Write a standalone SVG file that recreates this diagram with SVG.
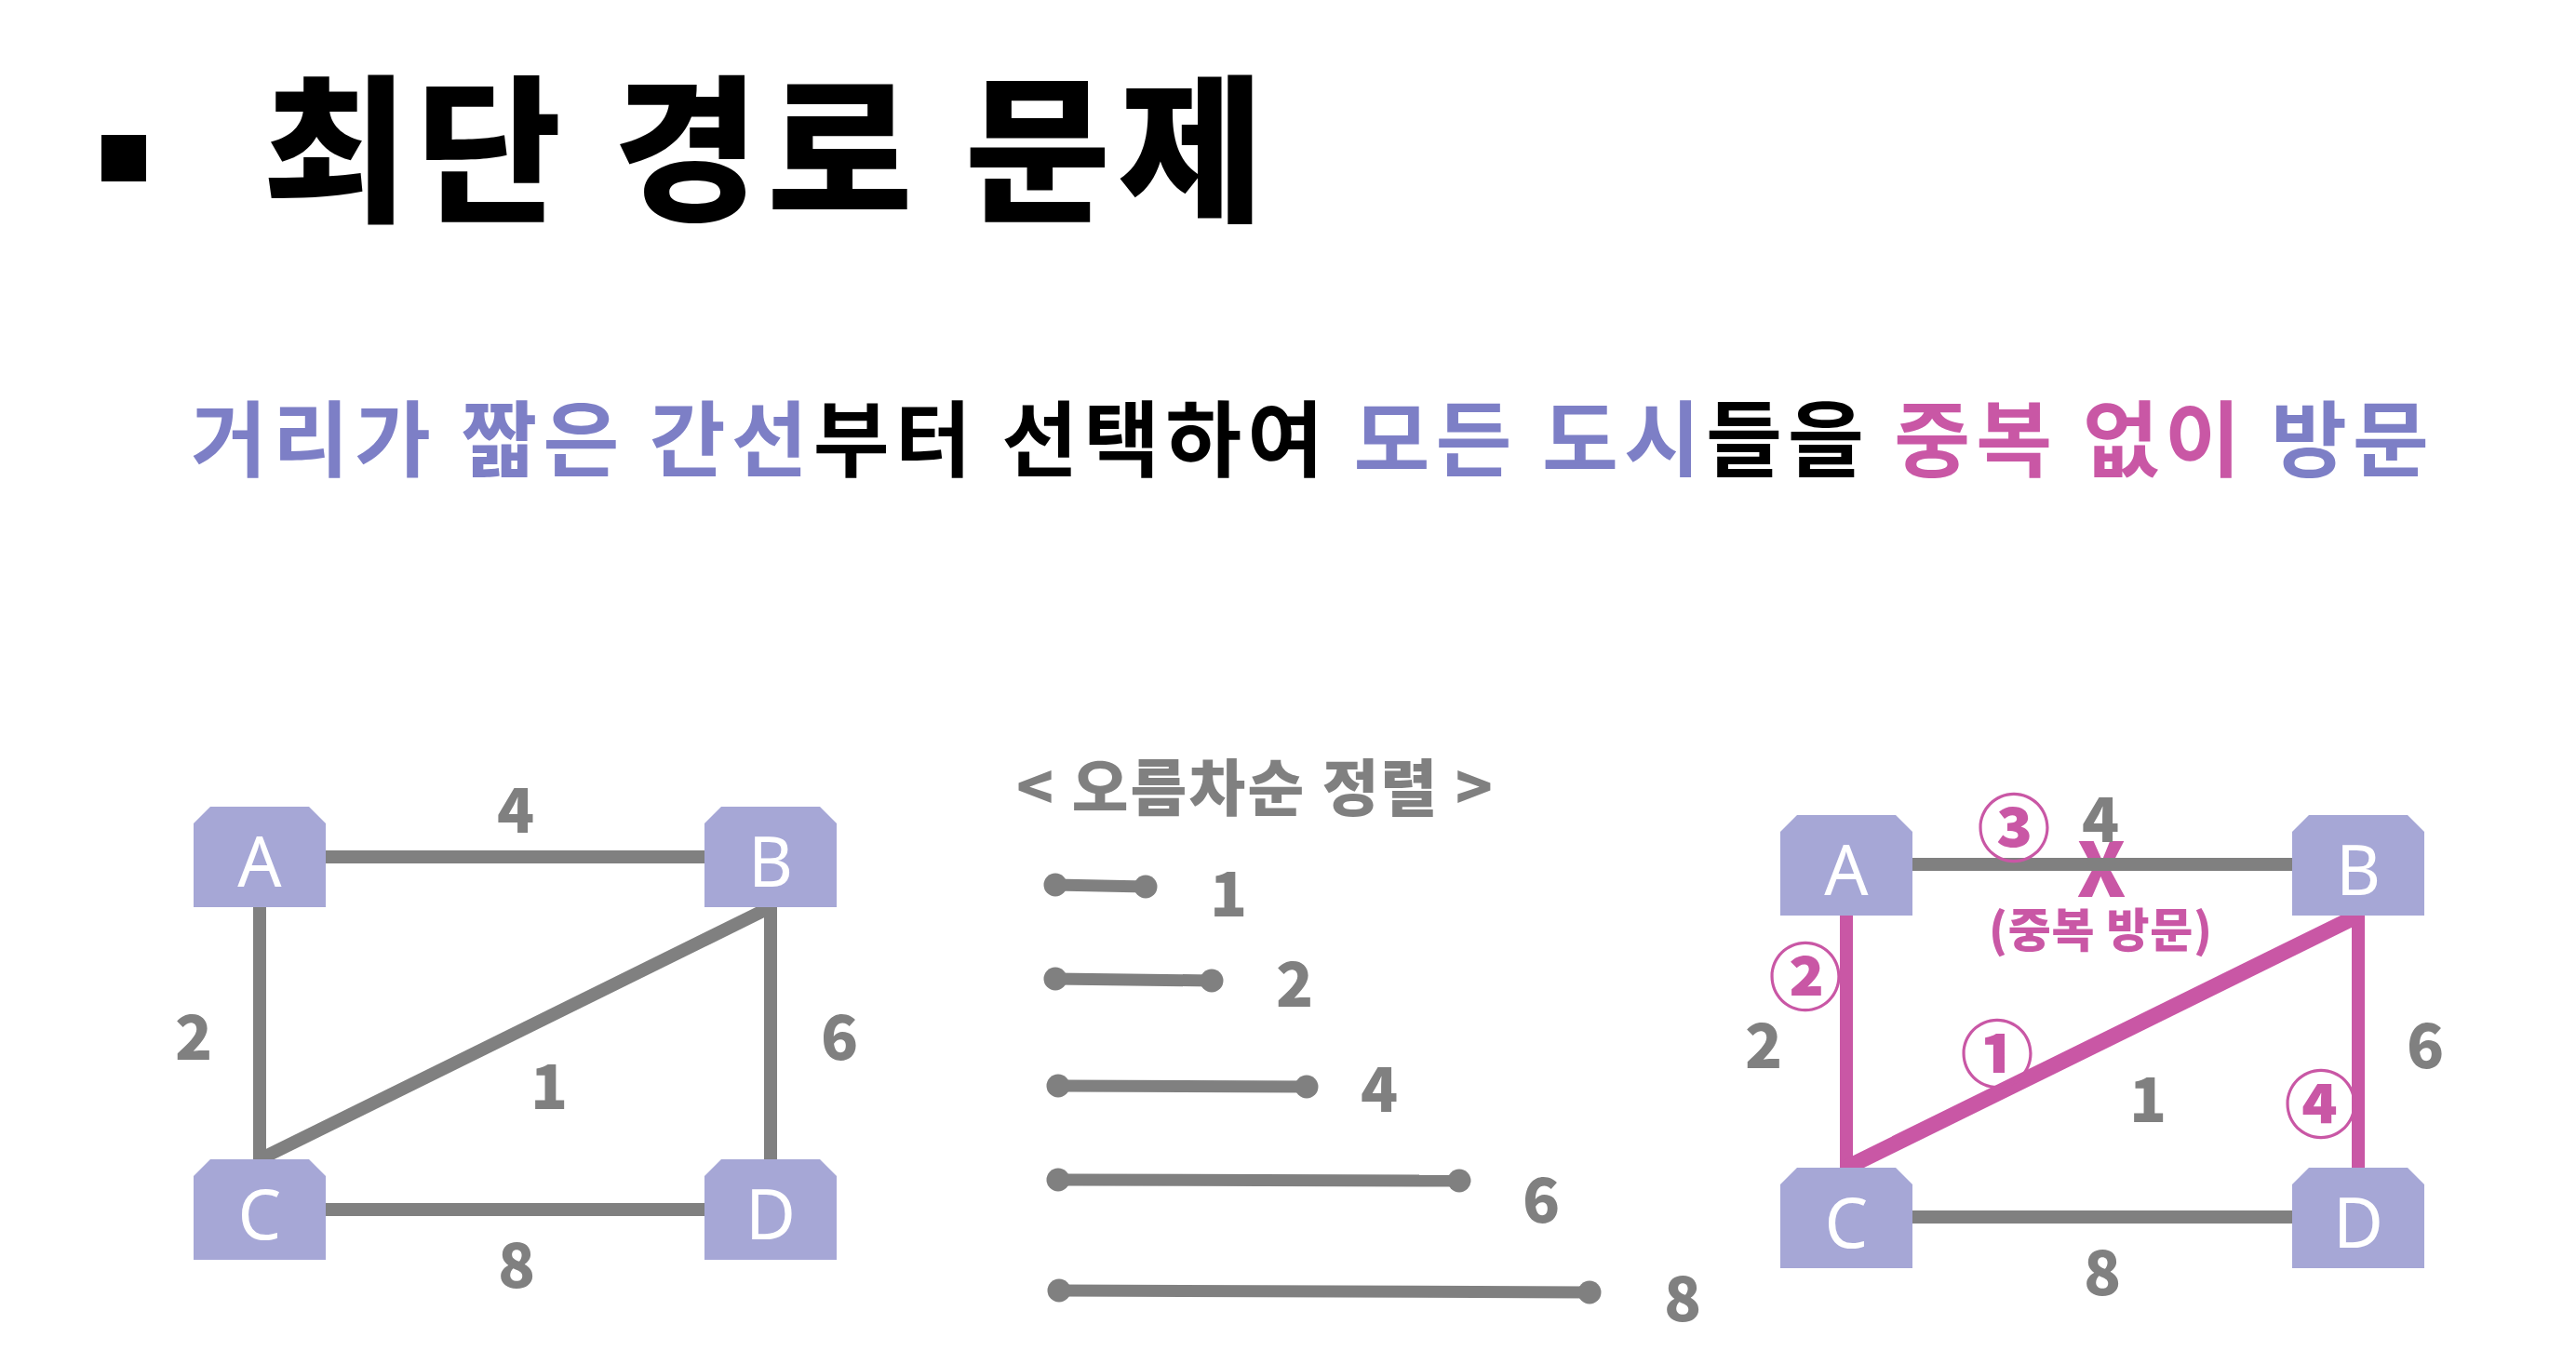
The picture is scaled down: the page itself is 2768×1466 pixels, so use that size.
<svg xmlns="http://www.w3.org/2000/svg" width="2768" height="1466" viewBox="0 0 2768 1466">
<style>
.kr{font-family:"Noto Sans CJK KR","Noto Sans",sans-serif}
.title{font-size:170px;font-weight:900;fill:#000}
.sub{font-size:89px;font-weight:700}
.pu{fill:#7D7FC6}
.bk{fill:#000}
.pk{fill:#C957A5}
.num{font-family:"Noto Sans CJK KR",sans-serif;font-size:66px;font-weight:900;fill:#808080;text-anchor:middle}
.node{fill:#A6A7D6}
.nl{font-family:"Noto Sans",sans-serif;font-size:74px;fill:#fff;text-anchor:middle}
.e{stroke:#808080;stroke-width:14;fill:none}
.ep{stroke:#C957A5;stroke-width:14;fill:none}
.epd{stroke:#C957A5;stroke-width:17;fill:none}
.s{stroke:#808080;stroke-width:13;fill:none;marker-start:url(#dot);marker-end:url(#dot)}
.circ{font-family:"Noto Sans CJK KR",sans-serif;font-size:79px;font-weight:900;fill:#C957A5;text-anchor:middle}
</style>
<defs>
<path id="shape" d="M18,0H124L142,18V108H0V18Z"/>
<marker id="dot" markerUnits="userSpaceOnUse" markerWidth="26" markerHeight="26" refX="13" refY="13" viewBox="0 0 26 26"><circle cx="13" cy="13" r="12.5" fill="#808080"/></marker>
</defs>
<rect width="2768" height="1466" fill="#fff"/>
<g id="title">
<rect x="109" y="145" width="48" height="50" fill="#000"/>
<text class="kr title" x="282" y="225" textLength="1076">최단 경로 문제</text>
</g>
<g id="subtitle">
<text class="kr sub" x="205" y="505" textLength="2405"><tspan class="pu">거리가 짧은 간선</tspan><tspan class="bk">부터 선택하여 </tspan><tspan class="pu">모든 도시</tspan><tspan class="bk">들을 </tspan><tspan class="pk">중복 없이</tspan><tspan class="pu"> 방문</tspan></text>
</g>
<g id="marks">
<text class="kr pk" x="2258" y="964" font-size="80" font-weight="900" text-anchor="middle">X</text>
</g>
<g id="connectors">
<line class="e" x1="350" y1="921" x2="757" y2="921"/>
<line class="e" x1="350" y1="1300" x2="757" y2="1300"/>
<line class="e" x1="279" y1="975" x2="279" y2="1246"/>
<line class="e" x1="828" y1="975" x2="828" y2="1246"/>
<line class="e" x1="279" y1="1246" x2="828" y2="975"/>
<line class="e" x1="2055" y1="929" x2="2463" y2="929"/>
<line class="e" x1="2055" y1="1308" x2="2463" y2="1308"/>
<line class="ep" x1="1984" y1="984" x2="1984" y2="1255"/>
<line class="ep" x1="2534" y1="984" x2="2534" y2="1255"/>
<line class="epd" x1="1984" y1="1255" x2="2534" y2="984"/>
</g>
<g id="left-graph">
<g id="L-A"><use href="#shape" x="208" y="867" class="node"/><text class="nl" x="279" y="953">A</text></g>
<g id="L-B"><use href="#shape" x="757" y="867" class="node"/><text class="nl" x="828" y="953">B</text></g>
<g id="L-C"><use href="#shape" x="208" y="1246" class="node"/><text class="nl" x="279" y="1332">C</text></g>
<g id="L-D"><use href="#shape" x="757" y="1246" class="node"/><text class="nl" x="828" y="1332">D</text></g>
<text class="num" x="554" y="895">4</text>
<text class="num" x="208" y="1139">2</text>
<text class="num" x="902" y="1139">6</text>
<text class="num" x="590" y="1192">1</text>
<text class="num" x="555" y="1384">8</text>
</g>
<g id="sorted">
<text class="kr" x="1092" y="871" textLength="512" font-size="66" font-weight="900" fill="#808080">&lt; 오름차순 정렬 &gt;</text>
<line class="s" x1="1134" y1="951" x2="1231" y2="953"/>
<line class="s" x1="1134" y1="1052" x2="1302" y2="1054"/>
<line class="s" x1="1137" y1="1167" x2="1404" y2="1168"/>
<line class="s" x1="1137" y1="1268" x2="1568" y2="1269"/>
<line class="s" x1="1138" y1="1387" x2="1708" y2="1389"/>
<text class="num" x="1320" y="985">1</text>
<text class="num" x="1391" y="1082">2</text>
<text class="num" x="1482" y="1195">4</text>
<text class="num" x="1656" y="1314">6</text>
<text class="num" x="1808" y="1420">8</text>
</g>
<g id="right-graph">
<g id="R-A"><use href="#shape" x="1913" y="876" class="node"/><text class="nl" x="1984" y="962">A</text></g>
<g id="R-B"><use href="#shape" x="2463" y="876" class="node"/><text class="nl" x="2534" y="962">B</text></g>
<g id="R-C"><use href="#shape" x="1913" y="1255" class="node"/><text class="nl" x="1984" y="1341">C</text></g>
<g id="R-D"><use href="#shape" x="2463" y="1255" class="node"/><text class="nl" x="2534" y="1341">D</text></g>
<text class="num" x="2257" y="905">4</text>
<text class="num" x="1895" y="1148">2</text>
<text class="num" x="2606" y="1148">6</text>
<text class="num" x="2308" y="1206">1</text>
<text class="num" x="2259" y="1392">8</text>
<text class="kr pk" x="2137" y="1018" textLength="240" font-size="50" font-weight="900">(중복 방문)</text>
<text class="circ" x="2146" y="1163">①</text>
<text class="circ" x="1940" y="1080">②</text>
<text class="circ" x="2164" y="920">③</text>
<text class="circ" x="2494" y="1217">④</text>
</g>
</svg>
